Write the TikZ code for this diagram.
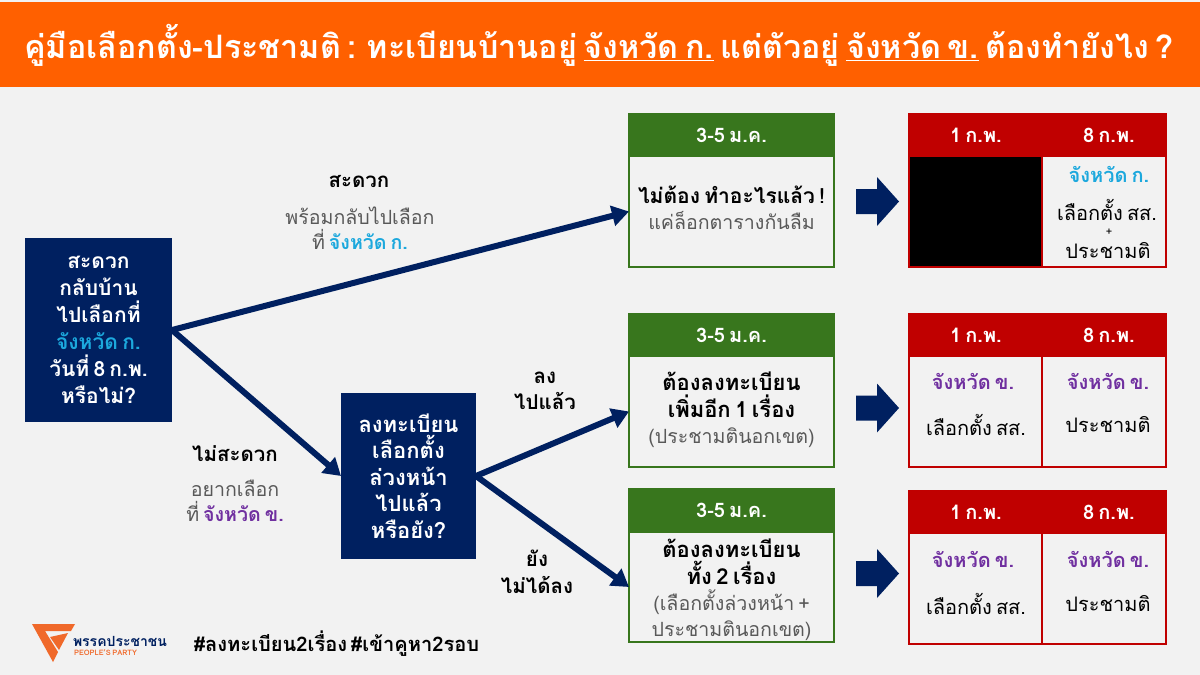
\documentclass[tikz,border=0pt]{standalone}
\usepackage{fontspec}
\setmainfont[Script=Thai,WordSpace=0.6]{Loma}
\usetikzlibrary{arrows.meta}
\definecolor{orangebar}{HTML}{FF6000}
\definecolor{pagebg}{HTML}{F2F2F2}
\definecolor{navy}{HTML}{002060}
\definecolor{greenhd}{HTML}{38761D}
\definecolor{redhd}{HTML}{C00000}
\definecolor{skyb}{HTML}{1CA8DD}
\definecolor{purp}{HTML}{7030A0}
\definecolor{graytx}{HTML}{595959}
\definecolor{logoor}{HTML}{F0692A}
\newcommand{\fsz}[2]{\fontsize{#1pt}{#2pt}\selectfont}
\newcommand{\hb}[1]{{\fsz{22}{26}\bfseries #1}}
\newcommand{\gr}[1]{{\fsz{19.6}{26}\color{graytx}#1}}
\newcommand{\bigarr}[2]{\fill[navy,shift={(#1,#2)}] (-22,-12.5) -- (-1,-12.5) -- (-1,-24.5) -- (21,0) -- (-1,24.5) -- (-1,12.5) -- (-22,12.5) -- cycle;}
\tikzset{
  every node/.style={inner sep=0pt,outer sep=0pt},
  navybox/.style={fill=navy,text=white,align=center,anchor=north west,font=\fsz{21}{27}\bfseries},
  navyboxb/.style={navybox,font=\fsz{22}{26.5}\bfseries},
  greenhead/.style={fill=greenhd,draw=greenhd,line width=2pt,text=white,anchor=north west,minimum width=205pt,minimum height=42pt,font=\fsz{20}{24}\bfseries},
  greenbody/.style={draw=greenhd,line width=2pt,fill=pagebg,anchor=north west,minimum width=205pt,minimum height=111pt},
  stack/.style={align=center,font=\fsz{20}{26.3}},
  cella/.style={draw=redhd,line width=2pt,fill=pagebg,anchor=north west,minimum width=133pt,minimum height=111pt},
  cellb/.style={draw=redhd,line width=2pt,fill=pagebg,anchor=north west,minimum width=124pt,minimum height=111pt},
  flow/.style={draw=navy,line width=6pt,-{Triangle[length=17pt,width=20pt]}},
  lblbold/.style={align=center,font=\fsz{20.5}{26.5}\bfseries},
  lblgray/.style={align=center,text=graytx,font=\fsz{19.6}{25}},
  cellhd/.style={text=white,font=\fsz{20}{24}\bfseries},
  prov/.style={font=\fsz{20}{24}\bfseries},
  celltx/.style={font=\fsz{20}{24}},
}
\begin{document}
\begin{tikzpicture}[x=1pt,y=-1pt]
\useasboundingbox (0,0) rectangle (1200,675);
\fill[pagebg] (0,0) rectangle (1200,675);
\fill[orangebar] (0,2) rectangle (1200,87);
\node[text=white,font=\fsz{32.3}{36}\bfseries] (title) at (599,45) {คู่มือเลือกตั้ง-ประชามติ : ทะเบียนบ้านอยู่ \underline{จังหวัด ก.} แต่ตัวอยู่ \underline{จังหวัด ข.} ต้องทำยังไง ?};

\node[navybox,minimum width=147pt,minimum height=184pt] (q1) at (25,238) {สะดวก\\กลับบ้าน\\ไปเลือกที่\\\textcolor{skyb}{จังหวัด ก.}\\วันที่ 8 ก.พ.\\หรือไม่?};
\node[navyboxb,minimum width=135pt,minimum height=166pt] (q2) at (341,393) {ลงทะเบียน\\เลือกตั้ง\\ล่วงหน้า\\ไปแล้ว\\หรือยัง?};

% green column
\node[greenhead] (g1h) at (629,114) {3-5 ม.ค.};
\node[greenbody] (g1) at (629,156) {};
\node[stack] (g1t) at (731.5,208) {{\fsz{21}{26}\bfseries ไม่ต้อง ทำอะไรแล้ว !}\\\gr{แค่ล็อกตารางกันลืม}};
\node[greenhead] (g2h) at (629,314) {3-5 ม.ค.};
\node[greenbody] (g2) at (629,356) {};
\node[stack] (g2t) at (731.5,410) {\hb{ต้องลงทะเบียน}\\\hb{เพิ่มอีก 1 เรื่อง}\\\gr{(ประชามตินอกเขต)}};
\node[greenhead,minimum height=43pt] (g3h) at (629,489) {3-5 ม.ค.};
\node[greenbody,minimum height=110pt] (g3) at (629,532) {};
\node[stack] (g3t) at (731.5,590) {\hb{ต้องลงทะเบียน}\\\hb{ทั้ง 2 เรื่อง}\\\gr{(เลือกตั้งล่วงหน้า +}\\\gr{ประชามตินอกเขต)}};

% connectors
\draw[flow] (q1.east) -- (g1.west);
\draw[flow] (q1.east) -- (q2.west);
\draw[flow] (q2.east) -- (g2.west);
\draw[flow] (q2.east) -- (g3.west);

% labels
\node[lblbold] (l1) at (359,181) {สะดวก};
\node[lblgray] (l1b) at (360,228) {พร้อมกลับไปเลือก\\ที่ \textcolor{skyb}{\bfseries จังหวัด ก.}};
\node[lblbold] (l2) at (235,454) {ไม่สะดวก};
\node[lblgray] (l2b) at (235,501) {อยากเลือก\\ที่ \textcolor{purp}{\bfseries จังหวัด ข.}};
\node[lblbold] (l3) at (545,391) {ลง\\ไปแล้ว};
\node[lblbold] (l4) at (537,572) {ยัง\\ไม่ได้ลง};

% big arrows
\bigarr{878}{201.5}
\bigarr{878}{408}
\bigarr{878}{573.5}

% table 1
\node[cella,fill=black] (t1a) at (909,156) {};
\node[cellb] (t1b) at (1042,156) {};
\fill[redhd] (908,113) rectangle (1167,156);
\node[cellhd] (t1ha) at (976,135) {1 ก.พ.};
\node[cellhd] (t1hb) at (1109,135) {8 ก.พ.};
\node[prov,text=skyb] (t1p) at (1109,174) {จังหวัด ก.};
\node[celltx] (t1x) at (1107,210) {เลือกตั้ง สส.};
\node[font=\fsz{11}{12}] (t1y) at (1109,232) {+};
\node[celltx] (t1z) at (1108,251) {ประชามติ};
% table 2
\node[cella] (t2a) at (909,356) {};
\node[cellb] (t2b) at (1042,356) {};
\fill[redhd] (908,313) rectangle (1167,356);
\node[cellhd] (t2ha) at (976,335) {1 ก.พ.};
\node[cellhd] (t2hb) at (1109,335) {8 ก.พ.};
\node[prov,text=purp] (t2pa) at (973,381) {จังหวัด ข.};
\node[celltx] (t2xa) at (976,425) {เลือกตั้ง สส.};
\node[prov,text=purp] (t2pb) at (1108,381) {จังหวัด ข.};
\node[celltx] (t2xb) at (1108,425) {ประชามติ};
% table 3
\node[cella] (t3a) at (909,533) {};
\node[cellb] (t3b) at (1042,533) {};
\fill[redhd] (908,490) rectangle (1167,533);
\node[cellhd] (t3ha) at (976,512) {1 ก.พ.};
\node[cellhd] (t3hb) at (1109,512) {8 ก.พ.};
\node[prov,text=purp] (t3pa) at (973,559) {จังหวัด ข.};
\node[celltx] (t3xa) at (976,604) {เลือกตั้ง สส.};
\node[prov,text=purp] (t3pb) at (1108,559) {จังหวัด ข.};
\node[celltx] (t3xb) at (1108,604) {ประชามติ};

% footer
\node[anchor=west,font=\fsz{20.1}{24}\bfseries] (tags) at (194,644) {\#ลงทะเบียน2เรื่อง \#เข้าคูหา2รอบ};
\fill[logoor] (32,624) -- (75,624) -- (71,631) -- (45,631) -- (58,652) -- (53,662) -- cycle;
\fill[logoor] (50,637) -- (68,633) -- (59,650) -- cycle;
\node[anchor=west,text=navy,font=\fsz{14}{15}\bfseries] (logo1) at (73,641) {พรรคประชาชน};
\node[anchor=west,text=logoor,font=\fsz{7.5}{9}\bfseries] (logo2) at (74,653) {PEOPLE'S PARTY};
\end{tikzpicture}
\end{document}
